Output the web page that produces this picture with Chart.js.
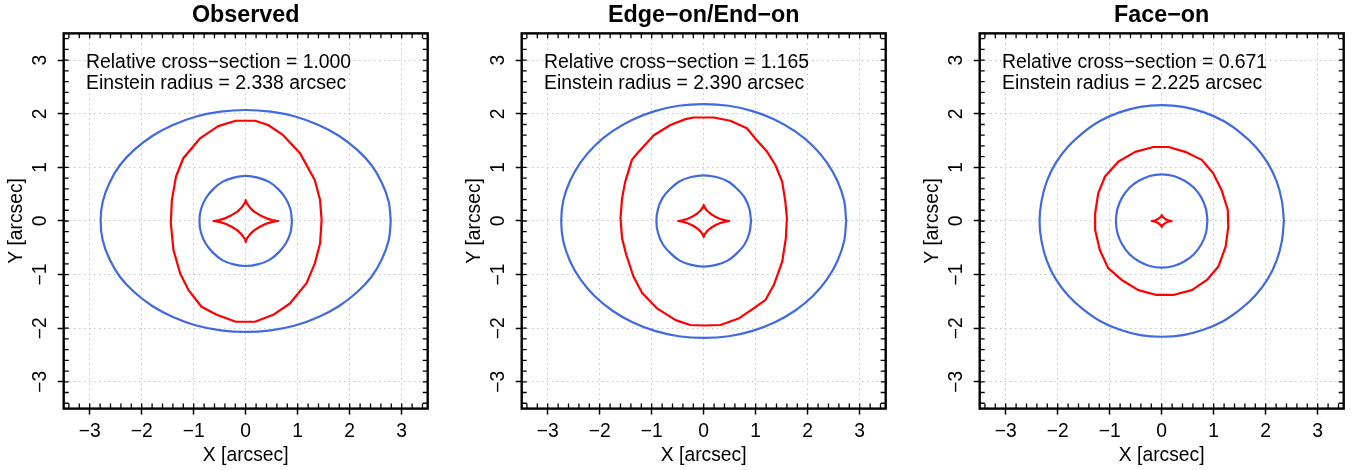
<!DOCTYPE html>
<html>
<head>
<meta charset="utf-8">
<script src="https://cdn.jsdelivr.net/npm/chart.js@4.4.0/dist/chart.umd.min.js"></script>
<style>
  body { margin: 0; background: #fff; width: 1359px; height: 470px; overflow: hidden; position: relative; }
  .panel { position: absolute; top: 0; width: 440px; height: 470px; }
</style>
</head>
<body>
<div class="panel" style="left:0px"><canvas id="p0" width="440" height="470"></canvas></div>
<div class="panel" style="left:458px"><canvas id="p1" width="440" height="470"></canvas></div>
<div class="panel" style="left:916px"><canvas id="p2" width="440" height="470"></canvas></div>
<script>
// panel texts
const panelTitles = ['Observed', 'Edge\u2212on/End\u2212on', 'Face\u2212on'];
const crossSections = ['1.000', '1.165', '0.671'];
const einsteinRadii = ['2.338', '2.390', '2.225'];

// axis ticks (arcsec)
const tickValues = [-3, -2, -1, 0, 1, 2, 3];
const axisMin = -3.5, axisMax = 3.5;

// Observed
const obsOuter = [[2.79,0],[2.75,0.36],[2.62,0.71],[2.42,1.04],[2.14,1.33],[1.79,1.59],[1.40,1.79],[0.95,1.95],[0.48,2.04],[0,2.07],[-0.48,2.04],[-0.95,1.95],[-1.40,1.79],[-1.79,1.59],[-2.14,1.33],[-2.42,1.04],[-2.62,0.71],[-2.75,0.36],[-2.79,0],[-2.75,-0.36],[-2.62,-0.71],[-2.42,-1.04],[-2.14,-1.33],[-1.79,-1.59],[-1.40,-1.79],[-0.95,-1.95],[-0.48,-2.04],[0,-2.07],[0.48,-2.04],[0.95,-1.95],[1.40,-1.79],[1.79,-1.59],[2.14,-1.33],[2.42,-1.04],[2.62,-0.71],[2.75,-0.36],[2.79,0]];
const obsCritical = [[-0.19,1.87],[0.18,1.87],[0.43,1.79],[0.72,1.60],[1.04,1.27],[1.33,0.76],[1.43,0.39],[1.46,0.02],[1.43,-0.42],[1.33,-0.79],[1.17,-1.16],[0.85,-1.54],[0.53,-1.75],[0.18,-1.88],[-0.19,-1.88],[-0.56,-1.75],[-0.85,-1.60],[-1.10,-1.29],[-1.26,-0.98],[-1.39,-0.54],[-1.44,-0.04],[-1.42,0.39],[-1.34,0.83],[-1.20,1.17],[-0.88,1.54],[-0.53,1.77],[-0.19,1.87]];
const obsInner = [[0.89,0],[0.86,0.22],[0.77,0.42],[0.63,0.59],[0.45,0.73],[0.23,0.81],[0,0.84],[-0.23,0.81],[-0.45,0.73],[-0.63,0.59],[-0.77,0.42],[-0.86,0.22],[-0.89,0],[-0.86,-0.22],[-0.77,-0.42],[-0.63,-0.59],[-0.45,-0.73],[-0.23,-0.81],[0,-0.84],[0.23,-0.81],[0.45,-0.73],[0.63,-0.59],[0.77,-0.42],[0.86,-0.22],[0.89,0]];
const obsAstroid = [[0.62,0],[0.59,0.002],[0.51,0.016],[0.40,0.049],[0.28,0.104],[0.16,0.175],[0.078,0.253],[0.025,0.324],[0.003,0.372],[0,0.39],[-0.003,0.372],[-0.025,0.324],[-0.078,0.253],[-0.16,0.175],[-0.28,0.104],[-0.40,0.049],[-0.51,0.016],[-0.59,0.002],[-0.62,0],[-0.59,-0.002],[-0.51,-0.016],[-0.40,-0.049],[-0.28,-0.104],[-0.16,-0.175],[-0.078,-0.253],[-0.025,-0.324],[-0.003,-0.372],[0,-0.39],[0.003,-0.372],[0.025,-0.324],[0.078,-0.253],[0.16,-0.175],[0.28,-0.104],[0.40,-0.049],[0.51,-0.016],[0.59,-0.002],[0.62,0]];

// Edge-on / End-on
const edgeOuter = [[2.74,0],[2.70,0.38],[2.57,0.75],[2.37,1.09],[2.10,1.40],[1.76,1.67],[1.37,1.89],[0.94,2.05],[0.48,2.15],[0,2.18],[-0.48,2.15],[-0.94,2.05],[-1.37,1.89],[-1.76,1.67],[-2.10,1.40],[-2.37,1.09],[-2.57,0.75],[-2.70,0.38],[-2.74,0],[-2.70,-0.38],[-2.57,-0.75],[-2.37,-1.09],[-2.10,-1.40],[-1.76,-1.67],[-1.37,-1.89],[-0.94,-2.05],[-0.48,-2.15],[0,-2.18],[0.48,-2.15],[0.94,-2.05],[1.37,-1.89],[1.76,-1.67],[2.10,-1.40],[2.37,-1.09],[2.57,-0.75],[2.70,-0.38],[2.74,0]];
const edgeCritical = [[-0.19,1.93],[0.19,1.93],[0.51,1.87],[0.83,1.73],[0.99,1.54],[1.22,1.29],[1.38,1.04],[1.51,0.73],[1.57,0.36],[1.60,0.05],[1.58,-0.32],[1.51,-0.76],[1.35,-1.19],[1.19,-1.47],[0.96,-1.63],[0.67,-1.82],[0.32,-1.94],[0,-1.95],[-0.26,-1.94],[-0.54,-1.85],[-0.90,-1.63],[-1.18,-1.35],[-1.35,-1.04],[-1.49,-0.63],[-1.57,-0.32],[-1.60,0.05],[-1.57,0.42],[-1.51,0.73],[-1.38,1.14],[-1.28,1.26],[-0.96,1.60],[-0.64,1.79],[-0.35,1.90],[-0.19,1.93]];
const edgeInner = [[0.91,0],[0.88,0.22],[0.79,0.43],[0.64,0.60],[0.46,0.74],[0.24,0.82],[0,0.85],[-0.24,0.82],[-0.46,0.74],[-0.64,0.60],[-0.79,0.43],[-0.88,0.22],[-0.91,0],[-0.88,-0.22],[-0.79,-0.43],[-0.64,-0.60],[-0.46,-0.74],[-0.24,-0.82],[0,-0.85],[0.24,-0.82],[0.46,-0.74],[0.64,-0.60],[0.79,-0.43],[0.88,-0.22],[0.91,0]];
const edgeAstroid = [[0.49,0],[0.47,0.002],[0.41,0.012],[0.32,0.038],[0.22,0.080],[0.13,0.135],[0.061,0.195],[0.020,0.249],[0.003,0.287],[0,0.30],[-0.003,0.287],[-0.020,0.249],[-0.061,0.195],[-0.13,0.135],[-0.22,0.080],[-0.32,0.038],[-0.41,0.012],[-0.47,0.002],[-0.49,0],[-0.47,-0.002],[-0.41,-0.012],[-0.32,-0.038],[-0.22,-0.080],[-0.13,-0.135],[-0.061,-0.195],[-0.020,-0.249],[-0.003,-0.287],[0,-0.30],[0.003,-0.287],[0.020,-0.249],[0.061,-0.195],[0.13,-0.135],[0.22,-0.080],[0.32,-0.038],[0.41,-0.012],[0.47,-0.002],[0.49,0]];

// Face-on
const faceOuter = [[2.35,0],[2.31,0.38],[2.21,0.74],[2.04,1.08],[1.80,1.39],[1.51,1.65],[1.18,1.87],[0.80,2.03],[0.41,2.13],[0,2.16],[-0.41,2.13],[-0.80,2.03],[-1.18,1.87],[-1.51,1.65],[-1.80,1.39],[-2.04,1.08],[-2.21,0.74],[-2.31,0.38],[-2.35,0],[-2.31,-0.38],[-2.21,-0.74],[-2.04,-1.08],[-1.80,-1.39],[-1.51,-1.65],[-1.18,-1.87],[-0.80,-2.03],[-0.41,-2.13],[0,-2.16],[0.41,-2.13],[0.80,-2.03],[1.18,-1.87],[1.51,-1.65],[1.80,-1.39],[2.04,-1.08],[2.21,-0.74],[2.31,-0.38],[2.35,0]];
const faceCritical = [[-0.16,1.38],[0.13,1.38],[0.45,1.29],[0.77,1.14],[0.99,0.89],[1.15,0.58],[1.27,0.21],[1.28,-0.11],[1.23,-0.48],[1.09,-0.85],[0.87,-1.10],[0.58,-1.29],[0.22,-1.38],[-0.10,-1.38],[-0.45,-1.29],[-0.77,-1.10],[-1.03,-0.88],[-1.19,-0.54],[-1.28,-0.17],[-1.28,0.14],[-1.22,0.52],[-1.09,0.83],[-0.83,1.11],[-0.51,1.29],[-0.16,1.38]];
const faceInner = [[0.88,0],[0.85,0.23],[0.76,0.44],[0.62,0.62],[0.44,0.75],[0.23,0.84],[0,0.87],[-0.23,0.84],[-0.44,0.75],[-0.62,0.62],[-0.76,0.44],[-0.85,0.23],[-0.88,0],[-0.85,-0.23],[-0.76,-0.44],[-0.62,-0.62],[-0.44,-0.75],[-0.23,-0.84],[0,-0.87],[0.23,-0.84],[0.44,-0.75],[0.62,-0.62],[0.76,-0.44],[0.85,-0.23],[0.88,0]];
const faceAstroid = [[0.19,0],[0.171,0.002],[0.123,0.014],[0.067,0.039],[0.024,0.071],[0.003,0.099],[0,0.11],[-0.003,0.099],[-0.024,0.071],[-0.067,0.039],[-0.123,0.014],[-0.171,0.002],[-0.19,0],[-0.171,-0.002],[-0.123,-0.014],[-0.067,-0.039],[-0.024,-0.071],[-0.003,-0.099],[0,-0.11],[0.003,-0.099],[0.024,-0.071],[0.067,-0.039],[0.123,-0.014],[0.171,-0.002],[0.19,0]];

const panelCurves = [
  [obsOuter, obsCritical, obsInner, obsAstroid],
  [edgeOuter, edgeCritical, edgeInner, edgeAstroid],
  [faceOuter, faceCritical, faceInner, faceAstroid]
];
const curveColors = ['#4169E1', '#FF0000', '#4169E1', '#FF0000'];
const curveTension = [0.35, 0, 0.35, 0];

const FONT = "'Liberation Sans', Arial, Helvetica, sans-serif";
Chart.defaults.font.family = FONT;
Chart.defaults.font.size = 19.3;
Chart.defaults.color = '#000';

const minus = v => (v < 0 ? '\u2212' + Math.abs(v) : String(v));

// box, inward minor ticks and the annotation text
const framePlugin = {
  id: 'frame',
  afterDraw(chart, args, opts) {
    const ctx = chart.ctx, ca = chart.chartArea;
    const sx = chart.scales.x, sy = chart.scales.y;
    ctx.save();
    ctx.strokeStyle = '#000';
    ctx.lineWidth = 1.3;
    ctx.beginPath();
    for (let i = -17; i <= 17; i++) {
      const v = i * 0.2;
      const px = sx.getPixelForValue(v), py = sy.getPixelForValue(v);
      ctx.moveTo(px, ca.bottom); ctx.lineTo(px, ca.bottom - 5);
      ctx.moveTo(px, ca.top); ctx.lineTo(px, ca.top + 5);
      ctx.moveTo(ca.left, py); ctx.lineTo(ca.left + 5, py);
      ctx.moveTo(ca.right, py); ctx.lineTo(ca.right - 5, py);
    }
    ctx.stroke();
    ctx.lineWidth = 2.4;
    ctx.strokeRect(ca.left, ca.top, ca.right - ca.left, ca.bottom - ca.top);
    ctx.fillStyle = '#000';
    ctx.font = '19.4px ' + FONT;
    ctx.textBaseline = 'alphabetic';
    ctx.textAlign = 'left';
    ctx.fillText('Relative cross\u2212section = ' + opts.cs, ca.left + 22.3, ca.top + 34.9);
    ctx.fillText('Einstein radius = ' + opts.er + ' arcsec', ca.left + 22.3, ca.top + 55.9);
    ctx.restore();
  }
};

function makePanel(i) {
  const datasets = panelCurves[i].map((pts, k) => ({
    data: pts.map(p => ({ x: p[0], y: p[1] })),
    borderColor: curveColors[k],
    borderWidth: 2.2,
    borderJoinStyle: 'round',
    borderCapStyle: 'round',
    showLine: true,
    pointRadius: 0,
    tension: curveTension[k]
  }));
  const gridOpts = { color: '#c4c4c4', lineWidth: 1, tickLength: 6, tickColor: '#000', tickWidth: 1.5 };
  new Chart(document.getElementById('p' + i), {
    type: 'scatter',
    data: { datasets },
    plugins: [framePlugin],
    options: {
      responsive: false,
      animation: false,
      events: [],
      layout: { padding: { left: 0, right: 12.3, top: 0, bottom: 0 } },
      plugins: {
        legend: { display: false },
        tooltip: { enabled: false },
        title: {
          display: true, fullSize: false,
          text: panelTitles[i],
          font: { size: 23.3, weight: 'bold' },
          padding: { top: 1.2, bottom: 4.2 }
        },
        frame: { cs: crossSections[i], er: einsteinRadii[i] }
      },
      scales: {
        x: {
          type: 'linear', min: axisMin, max: axisMax,
          afterBuildTicks: s => { s.ticks = tickValues.map(v => ({ value: v })); },
          afterFit: s => { s.height = 61.4; },
          ticks: { callback: minus, maxRotation: 0, padding: 5 },
          grid: gridOpts,
          border: { display: false, dash: [1.5, 3.5] },
          title: { display: true, text: 'X [arcsec]', padding: { top: 0, bottom: 2.6 } }
        },
        y: {
          type: 'linear', min: axisMin, max: axisMax,
          afterBuildTicks: s => { s.ticks = tickValues.map(v => ({ value: v })); },
          afterFit: s => { s.width = 63.7; },
          ticks: { callback: minus, minRotation: 90, maxRotation: 90, crossAlign: 'center', padding: 6 },
          grid: gridOpts,
          border: { display: false, dash: [1.5, 3.5] },
          title: { display: true, text: 'Y [arcsec]', padding: { top: 5.2, bottom: 0 } }
        }
      }
    }
  });
}

[0, 1, 2].forEach(makePanel);
</script>
</body>
</html>
